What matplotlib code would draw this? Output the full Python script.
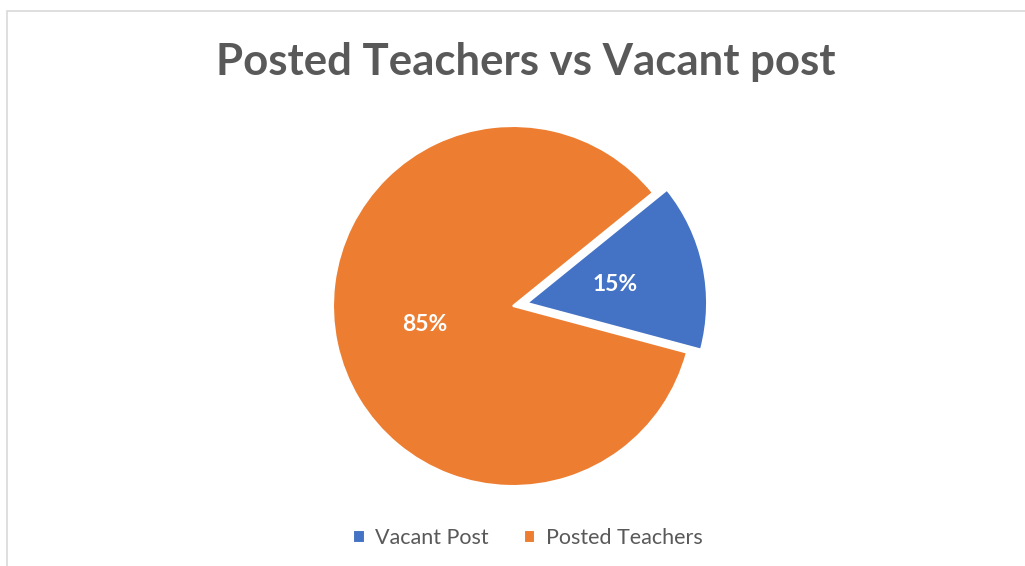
import matplotlib
matplotlib.use("Agg")
import matplotlib.pyplot as plt
from matplotlib.patches import Rectangle

labels = ["Vacant Post", "Posted Teachers"]
values = [15, 85]
colors = ["#4472C4", "#ED7D31"]
title = "Posted Teachers vs Vacant post"

W, H = 1025, 566
fig = plt.figure(figsize=(W / 100, H / 100), dpi=100)

# light frame around the chart area (cut off at right and bottom)
fig.patches.append(Rectangle((7 / W, -0.05), 1.1, (H - 11) / H + 0.05,
                             transform=fig.transFigure, fill=False,
                             edgecolor="#d9d9d9", linewidth=1.2))

cx, cy, r = 513, 306, 180
ax = fig.add_axes([(cx - r) / W, (H - cy - r) / H, 2 * r / W, 2 * r / H])
wedges, texts, autotexts = ax.pie(
    values, colors=colors, startangle=39, counterclock=False,
    explode=[0.08, 0], autopct="%1.0f%%", pctdistance=0.5,
    wedgeprops=dict(edgecolor="white", linewidth=1.5),
    textprops=dict(color="white", fontsize=16.5, fontweight="bold", family="Lato"))
ax.set_xlim(-1, 1)
ax.set_ylim(-1, 1)
ax.set_aspect("equal")
ax.axis("off")

fig.text(0.5125, (H - 62) / H, title, ha="center", va="center",
         fontsize=31.5, fontweight="bold", color="#595959", family="Lato")

leg = fig.legend(wedges, labels, loc="center", bbox_to_anchor=(0.515, (H - 538) / H),
                 ncol=2, frameon=False, handlelength=0.55, handleheight=0.55,
                 handletextpad=0.5, columnspacing=1.6,
                 prop=dict(family="Lato", size=15.5))
for t in leg.get_texts():
    t.set_color("#595959")

fig.savefig("out.png", dpi=100)
